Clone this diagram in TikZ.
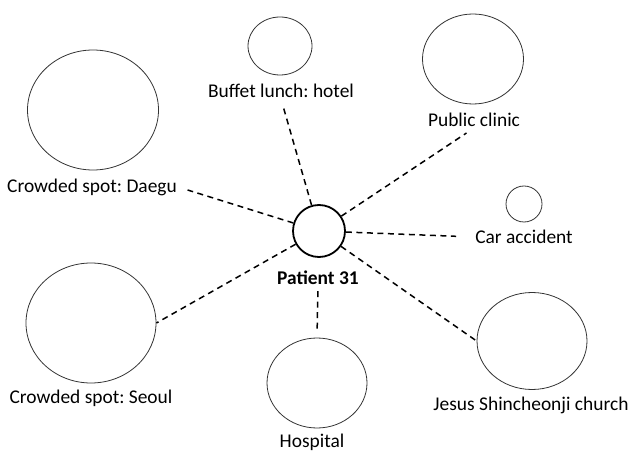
\documentclass[tikz,border=0pt]{standalone}
\usepackage{fontspec}
\setmainfont{Carlito}
\usepackage{xcolor}
\usetikzlibrary{shapes.geometric}
\frenchspacing

\begin{document}
\begin{tikzpicture}[
  x=1bp, y=-1bp,
  place/.style={draw=black!80, ellipse, line width=0.8bp, inner sep=0pt},
  hub/.style={draw, circle, line width=1.8bp, minimum size=52bp, inner sep=0pt},
  lbl/.style={font=\fontsize{19.5}{23}\selectfont, inner sep=1pt},
  link/.style={dash pattern=on 6bp off 4.5bp, line width=1.5bp}
]
  \useasboundingbox (0,0) rectangle (630,451);
  % patient in the middle
  \node[hub] (p) at (319,231) {};
  \node[lbl, font=\fontsize{19.5}{23}\selectfont\bfseries] (pl) at (318,278) {Patient 31};
  % places
  \node[place, minimum width=131bp, minimum height=120bp] (daegu) at (93,110) {};
  \node[lbl] (daegul) at (92,187) {Crowded spot: Daegu};
  \node[place, minimum width=64bp, minimum height=58bp] (buffet) at (280,46) {};
  \node[lbl] (buffetl) at (281,91) {Buffet lunch: hotel};
  \node[place, minimum width=101bp, minimum height=90bp] (clinic) at (473,59) {};
  \node[lbl] (clinicl) at (474,120) {Public clinic};
  \node[place, minimum width=36bp, minimum height=36bp] (car) at (524,204) {};
  \node[lbl] (carl) at (524,237) {Car accident};
  \node[place, minimum width=110bp, minimum height=97bp] (church) at (532,341) {};
  \node[lbl] (churchl) at (531,405) {Jesus Shincheonji church};
  \node[place, minimum width=100bp, minimum height=90bp] (hospital) at (317,383) {};
  \node[lbl] (hospitall) at (312,442) {Hospital};
  \node[place, minimum width=130bp, minimum height=120bp] (seoul) at (91,323) {};
  \node[lbl] (seoull) at (91,398) {Crowded spot: Seoul};
  % links
  \draw[link, shorten >=10bp] (p) -- (daegul.east);
  \draw[link, shorten >=6bp] (p) -- (buffetl.south);
  \draw[link, shorten >=9bp] (p) -- (clinicl.south);
  \draw[link, shorten >=18bp] (p) -- (carl.west);
  \draw[link] (p) -- (church.west);
  \draw[link] (p) -- (seoul.east);
  \draw[link, shorten <=5bp, shorten >=5bp] (pl.south) -- (hospital.north);
\end{tikzpicture}
\end{document}
